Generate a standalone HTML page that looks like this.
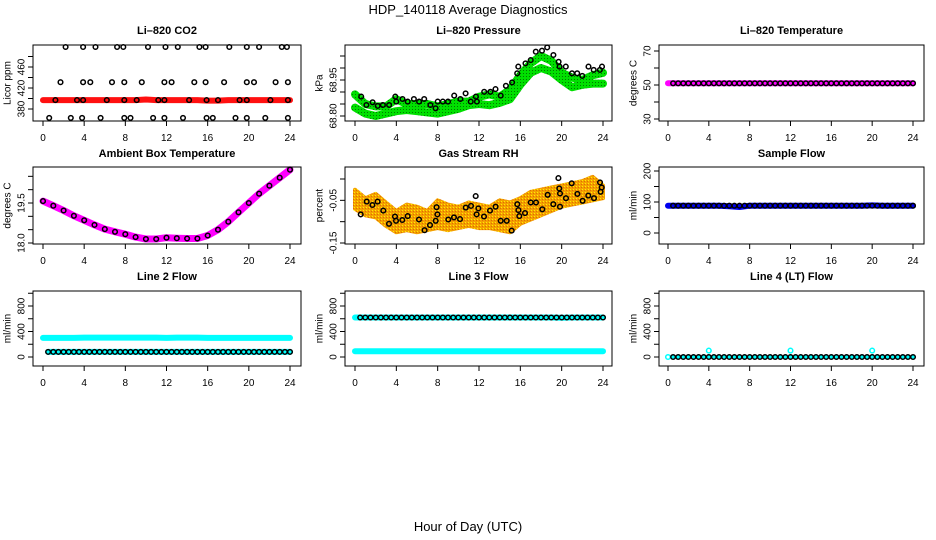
<!DOCTYPE html>
<html><head><meta charset="utf-8">
<style>
html,body{margin:0;padding:0;background:#fff;}
svg{display:block;font-family:"Liberation Sans",Arial,sans-serif;}
</style></head>
<body>
<svg id="chart" width="936" height="540" viewBox="0 0 936 540" xmlns="http://www.w3.org/2000/svg">
<defs>
<pattern id="orangePat" width="3" height="3" patternUnits="userSpaceOnUse"><rect width="3" height="3" fill="#f4a000"/><rect x="0" y="0" width="1" height="1" fill="#ffee00"/><rect x="2" y="1" width="1" height="1" fill="#e07000"/></pattern>
<pattern id="greenPat" width="3" height="3" patternUnits="userSpaceOnUse"><rect width="3" height="3" fill="#00e000"/><rect x="1" y="1" width="1" height="1" fill="#007a00"/></pattern>
</defs>
<text x="468" y="14" text-anchor="middle" font-size="13">HDP_140118  Average Diagnostics</text>
<text x="468" y="531" text-anchor="middle" font-size="13">Hour of Day (UTC)</text>
<g id="panels"></g>
</svg>
<script>
// ---------- data ----------
const xTicks = [0,4,8,12,16,20,24];
const halfHours = [0.5,1,1.5,2,2.5,3,3.5,4,4.5,5,5.5,6,6.5,7,7.5,8,8.5,9,9.5,10,10.5,11,11.5,12,12.5,13,13.5,14,14.5,15,15.5,16,16.5,17,17.5,18,18.5,19,19.5,20,20.5,21,21.5,22,22.5,23,23.5,24];
const hours = [0,1,2,3,4,5,6,7,8,9,10,11,12,13,14,15,16,17,18,19,20,21,22,23,24];

// CO2
const co2Line = [397,397,397,397,397,397,397,397,397,397,398,397,397,397,397,397,396,396,397,397,397,397,397,397,397];
const co2Hours = [2.2,3.9,5.1,7.2,7.8,10.2,11.9,13.1,15.2,15.8,18.1,19.8,21.0,23.2,23.7,
 1.7,3.9,4.6,6.7,7.9,9.6,11.8,12.5,14.7,15.8,17.6,19.8,20.5,22.6,23.8,
 1.2,3.3,3.9,6.2,7.9,9.1,11.2,11.8,14.2,15.9,17.0,19.1,19.8,22.1,23.8,
 0.6,2.7,3.8,5.6,7.9,8.5,10.7,11.8,13.6,15.9,16.5,18.7,19.8,21.6,23.8];
const co2Vals = [498,498,498,498,498,498,498,498,498,498,498,498,498,498,498,
 431,431,431,431,431,431,431,431,431,431,431,431,431,431,431,
 397,397,397,397,397,397,397,397,397,397,397,397,397,397,397,
 363,363,363,363,363,363,363,363,363,363,363,363,363,363,363];

// Pressure
const pressGreenUpper = [68.89,68.85,68.84,68.84,68.87,68.85,68.85,68.85,68.84,68.85,68.86,68.86,68.88,68.89,68.88,68.91,68.97,69.02,69.05,69.03,68.98,68.96,68.95,68.97,68.98];
const pressGreenLower = [68.835,68.81,68.80,68.81,68.82,68.825,68.82,68.815,68.81,68.82,68.83,68.845,68.85,68.845,68.855,68.87,68.93,68.98,69.00,68.985,68.95,68.92,68.93,68.935,68.935];
const pressHours = [0.6,1.1,1.7,2.2,2.7,3.3,3.9,4.0,4.6,5.1,5.7,6.2,6.7,7.3,7.8,8.0,8.5,9.0,9.6,10.2,10.7,11.2,11.7,11.8,12.5,13.1,13.6,14.1,14.6,15.2,15.7,15.8,16.5,17.0,17.5,18.1,18.6,19.2,19.7,19.8,20.4,21.0,21.5,22.0,22.6,23.1,23.7,23.9];
const pressVals = [68.881,68.846,68.857,68.842,68.846,68.846,68.881,68.860,68.871,68.860,68.871,68.860,68.871,68.846,68.832,68.860,68.860,68.860,68.885,68.871,68.894,68.860,68.881,68.860,68.901,68.901,68.912,68.885,68.926,68.940,68.978,69.006,69.019,69.033,69.068,69.072,69.086,69.054,69.026,69.006,69.006,68.978,68.978,68.967,69.006,68.992,68.992,69.006];

// Li-820 temperature
const tempLine = [51,51,51,51,51,51,51,51,51,51,51,51,51,51,51,51,51,51,51,51,51,51,51,51,51];
const tempMarks = [51,51,51,51,51,51,51,51,51,51,51,51,51,51,51,51,51,51,51,51,51,51,51,51,51,51,51,51,51,51,51,51,51,51,51,51,51,51,51,51,51,51,51,51,51,51,51,51];

// Ambient box temperature
const ambVals = [19.57,19.40,19.22,19.02,18.85,18.68,18.52,18.42,18.33,18.22,18.15,18.15,18.20,18.18,18.17,18.17,18.28,18.50,18.80,19.15,19.50,19.85,20.15,20.45,20.75];

// Gas stream RH
const rhUpper = [-0.025,-0.045,-0.035,-0.055,-0.075,-0.060,-0.065,-0.075,-0.050,-0.060,-0.065,-0.055,-0.060,-0.065,-0.050,-0.055,-0.045,-0.030,-0.025,-0.020,-0.015,-0.010,-0.005,0.005,-0.015];
const rhLower = [-0.070,-0.085,-0.090,-0.110,-0.125,-0.120,-0.125,-0.120,-0.115,-0.120,-0.115,-0.110,-0.115,-0.115,-0.120,-0.125,-0.105,-0.095,-0.085,-0.075,-0.065,-0.060,-0.055,-0.050,-0.045];
const rhHours = [0.55,1.13,1.68,2.19,2.74,3.29,3.87,3.97,4.58,5.10,6.19,6.74,7.26,7.81,7.90,7.97,9.03,9.58,10.16,10.71,11.23,11.68,11.77,11.94,12.48,13.06,13.61,14.10,14.68,15.16,15.71,15.81,15.90,16.45,17.00,17.52,18.13,18.65,19.19,19.68,19.77,19.84,19.84,20.42,20.97,21.52,22.03,22.58,23.13,23.71,23.77,23.87];
const rhVals = [-0.083,-0.053,-0.061,-0.053,-0.074,-0.105,-0.088,-0.098,-0.096,-0.087,-0.095,-0.120,-0.108,-0.098,-0.066,-0.083,-0.095,-0.090,-0.094,-0.067,-0.063,-0.040,-0.083,-0.069,-0.088,-0.074,-0.065,-0.098,-0.098,-0.121,-0.059,-0.073,-0.087,-0.080,-0.055,-0.055,-0.071,-0.037,-0.059,0.002,-0.022,-0.034,-0.065,-0.045,-0.010,-0.035,-0.051,-0.039,-0.045,-0.008,-0.030,-0.020];

// Sample flow
const sampleLine = [88,88,88,88,88,88,86,84,88,88,88,88,88,88,88,88,88,88,88,88,89,88,88,88,88];
const sampleMarks = [88,88,88,88,88,88,88,88,88,88,88,88,88,88,88,88,88,88,88,88,88,88,88,88,88,88,88,88,88,88,88,88,88,88,88,88,88,88,88,88,88,88,88,88,88,88,88,88];

// Line 2 flow
const l2Cyan = [300,300,300,300,305,305,305,305,305,305,305,305,300,305,305,305,300,300,300,300,300,300,300,300,300];
const l2Black = [80,80,80,80,80,80,80,80,80,80,80,80,80,80,80,80,80,80,80,80,80,80,80,80,80,80,80,80,80,80,80,80,80,80,80,80,80,80,80,80,80,80,80,80,80,80,80,80];

// Line 3 flow
const l3CyanLow = [90,90,90,90,90,90,90,90,90,90,90,90,90,90,90,90,90,90,90,90,90,90,90,90,90];
const l3CyanHigh = [620,620,620,620,620,620,620,620,620,620,620,620,620,620,620,620,620,620,620,620,615,620,620,620,620];
const l3Black = [620,620,620,620,620,620,620,620,620,620,620,620,620,620,620,620,620,620,620,620,620,620,620,620,620,620,620,620,620,620,620,620,620,620,620,620,620,620,620,620,620,620,620,620,620,620,620,620];

// Line 4 flow
const l4Black = [0,0,0,0,0,0,0,0,0,0,0,0,0,0,0,0,0,0,0,0,0,0,0,0,0,0,0,0,0,0,0,0,0,0,0,0,0,0,0,0,0,0,0,0,0,0,0,0];
const l4SpikeHours = [0,4,12,20];
const l4SpikeVals = [0,100,100,100];

// ---------- drawing ----------
const NS = "http://www.w3.org/2000/svg";
const root = document.getElementById('panels');
function mk(tag, attrs, parent){ const e=document.createElementNS(NS,tag); for(const k in attrs) e.setAttribute(k,attrs[k]); (parent||root).appendChild(e); return e; }

const cols = [{l:33,r:301,x0:43,x24:290,lab:22,tl:8},{l:345,r:612,x0:355,x24:603,lab:334,tl:320},{l:659,r:924,x0:668,x24:913,lab:648,tl:634}];
const rows = [{t:45,b:121,title:34},{t:167,b:244,title:157},{t:291,b:366,title:280}];

function makePanel(ci, ri, name, title, ytitle, v1, p1, v2, p2, ticks, labels, fmt){
  const c=cols[ci], r=rows[ri];
  const g = mk('g',{});
  
  
  const sx = h => c.x0 + (h/24)*(c.x24-c.x0);
  const sy = v => p1 + (v-v1)*(p2-p1)/(v2-v1);
  const t = mk('text',{x:(c.l+c.r)/2,y:r.title,'text-anchor':'middle','font-size':11,'font-weight':'bold'},g);
  t.textContent = title;
  
  
  const yt = mk('text',{x:c.tl,y:(r.t+r.b)/2,'text-anchor':'middle','font-size':10,transform:`rotate(-90 ${c.tl} ${(r.t+r.b)/2})`,'dominant-baseline':'middle'},g);
  yt.textContent = ytitle;
  
  
  const plot = mk('g',{},g);
  const axes = mk('g',{stroke:'#000','stroke-width':1,fill:'none'},g);
  mk('rect',{x:c.l,y:r.t,width:c.r-c.l,height:r.b-r.t},axes);
  const ya = mk('g',{},g);
  
  
  ticks.forEach(v=>{ const y=sy(v); mk('line',{x1:c.l-5,x2:c.l,y1:y,y2:y,stroke:'#000'},ya); });
  labels.forEach(v=>{ const y=sy(v); const lx=c.lab;
    const tx=mk('text',{x:lx,y:y,'text-anchor':'middle','font-size':10,'dominant-baseline':'middle',transform:`rotate(-90 ${lx} ${y})`},ya);
    tx.textContent = fmt(v); });
  const xa = mk('g',{},g);
  
  
  xTicks.forEach(h=>{ const x=sx(h); mk('line',{x1:x,x2:x,y1:r.b,y2:r.b+5,stroke:'#000'},xa);
    const tx=mk('text',{x:x,y:r.b+20,'text-anchor':'middle','font-size':10},xa); tx.textContent=h; });
  return {plot, sx, sy};
}
function thick(p, hs, vs, color, w, name){
  const pts = hs.map((h,i)=>p.sx(h).toFixed(1)+','+p.sy(vs[i]).toFixed(1)).join(' ');
  const e = mk('polyline',{points:pts,fill:'none',stroke:color,'stroke-width':w,'stroke-linejoin':'round','stroke-linecap':'round'},p.plot);
  
  
}
function band(p, hs, up, lo, fill, name){
  const a = hs.map((h,i)=>p.sx(h).toFixed(1)+','+p.sy(up[i]).toFixed(1));
  const b = hs.map((h,i)=>p.sx(h).toFixed(1)+','+p.sy(lo[i]).toFixed(1)).reverse();
  const e = mk('polygon',{points:a.concat(b).join(' '),fill:fill,stroke:fill,'stroke-width':4,'stroke-linejoin':'round'},p.plot);
  
  
}
function marks(p, hs, vs, fill, name, stroke){
  const g = mk('g',{},p.plot);
  
  
  hs.forEach((h,i)=>{ mk('circle',{cx:p.sx(h).toFixed(1),cy:p.sy(vs[i]).toFixed(1),r:2.3,fill:fill,stroke:stroke||'#000','stroke-width':1.5},g); });
}
const f0 = v=>String(v), f2 = v=>v.toFixed(2);

let p = makePanel(0,0,'co2-panel','Li\u2013820 CO2','Licor ppm',380,109,460,67,[380,400,420,440,460,480],[380,420,460],f0);
thick(p,hours,co2Line,'#ff1010',6,'co2-red-series');
marks(p,co2Hours,co2Vals,'none','co2-black-points');

p = makePanel(1,0,'pressure-panel','Li\u2013820 Pressure','kPa',68.80,116,68.95,80,[68.80,68.85,68.90,68.95,69.00,69.05],[68.80,68.95],f2);
thick(p,hours,pressGreenLower,'url(#greenPat)',8,'pressure-green-lower');
thick(p,hours,pressGreenUpper,'url(#greenPat)',8,'pressure-green-upper');
marks(p,pressHours,pressVals,'none','pressure-black-points');

p = makePanel(2,0,'temperature-panel','Li\u2013820 Temperature','degrees C',30,119,70,51,[30,40,50,60,70],[30,50,70],f0);
thick(p,hours,tempLine,'#ff00ff',6,'temperature-magenta-series');
marks(p,halfHours,tempMarks,'#ff00ff','temperature-black-points');

p = makePanel(0,1,'ambient-panel','Ambient Box Temperature','degrees C',18.0,243,19.5,203,[18.0,18.5,19.0,19.5,20.0,20.5],[18.0,19.5],v=>v.toFixed(1));
thick(p,hours,ambVals,'#ff00ff',7,'ambient-magenta-series');
marks(p,hours,ambVals,'#ff00ff','ambient-black-points');

p = makePanel(1,1,'rh-panel','Gas Stream RH','percent',-0.15,243,0.00,179,[-0.15,-0.10,-0.05,0.00],[-0.15,-0.05],f2);
band(p,hours,rhUpper,rhLower,'url(#orangePat)','rh-orange-cloud');
marks(p,rhHours,rhVals,'none','rh-black-points');

p = makePanel(2,1,'sample-flow-panel','Sample Flow','ml/min',0,233,200,171,[0,50,100,150,200],[0,100,200],f0);
thick(p,hours,sampleLine,'#0000ee',6,'sample-flow-blue-series');
marks(p,halfHours,sampleMarks,'#0000ee','sample-flow-black-points');

p = makePanel(0,2,'line2-panel','Line 2 Flow','ml/min',0,357,800,306,[0,200,400,600,800,1000],[0,400,800],f0);
thick(p,hours,l2Cyan,'#00ffff',6,'line2-cyan-high');
thick(p,halfHours,l2Black,'#00ffff',6,'line2-cyan-low');
marks(p,halfHours,l2Black,'#00ffff','line2-black-points');

p = makePanel(1,2,'line3-panel','Line 3 Flow','ml/min',0,357,800,306,[0,200,400,600,800,1000],[0,400,800],f0);
thick(p,hours,l3CyanLow,'#00ffff',6,'line3-cyan-low');
thick(p,hours,l3CyanHigh,'#00ffff',6,'line3-cyan-high');
marks(p,halfHours,l3Black,'#00ffff','line3-black-points');

p = makePanel(2,2,'line4-panel','Line 4 (LT) Flow','ml/min',0,357,800,306,[0,200,400,600,800,1000],[0,400,800],f0);
marks(p,l4SpikeHours,l4SpikeVals,'#fff','line4-cyan-spikes','#00ffff');
marks(p,halfHours,l4Black,'#00ffff','line4-black-points');
</script>
</body></html>
